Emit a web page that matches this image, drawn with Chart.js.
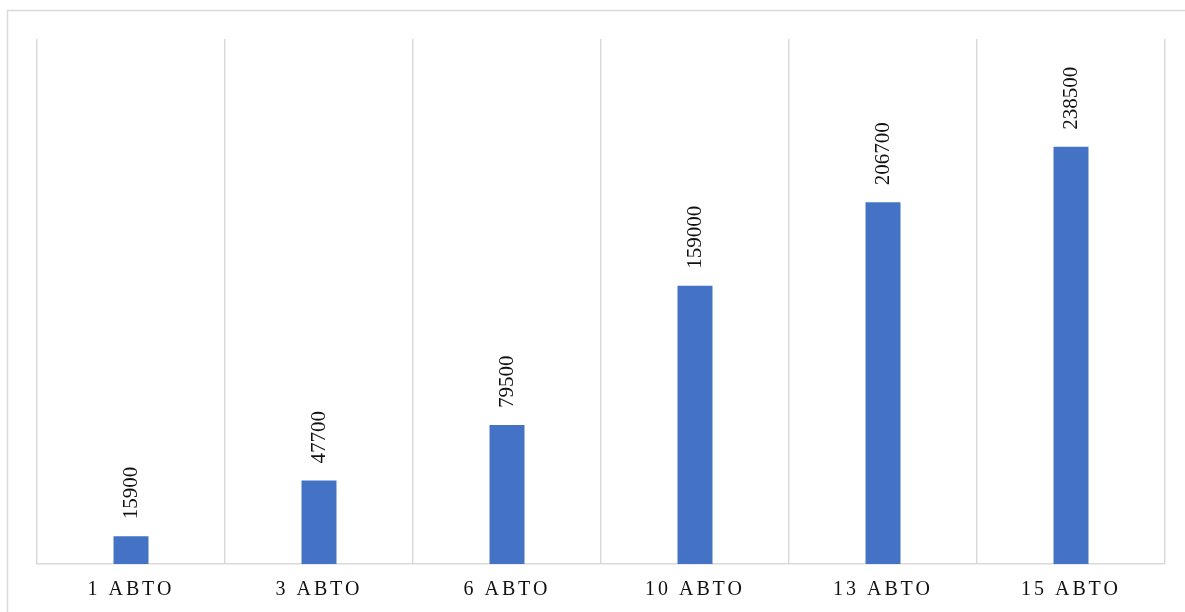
<!DOCTYPE html>
<html>
<head>
<meta charset="utf-8">
<script src="https://cdn.jsdelivr.net/npm/chart.js@4/dist/chart.umd.min.js"></script>
<style>
  html, body { margin: 0; padding: 0; background: #fff; }
  canvas { display: block; }
</style>
</head>
<body>
<canvas id="c" width="1185" height="612"></canvas>
<script>
const categories = ['1 АВТО', '3 АВТО', '6 АВТО', '10 АВТО', '13 АВТО', '15 АВТО'];
const values = [15900, 47700, 79500, 159000, 206700, 238500];
const yMax = 300000;

const serif = '"Liberation Serif", "Times New Roman", serif';

// Light frame around the whole chart
const framePlugin = {
  id: 'frame',
  beforeDraw(chart) {
    const ctx = chart.ctx;
    ctx.save();
    ctx.strokeStyle = '#d9d9d9';
    ctx.lineWidth = 1.5;
    ctx.strokeRect(7.5, 10.5, chart.width + 10, chart.height + 10);
    ctx.restore();
    // spaced-out category labels
    ctx.letterSpacing = '3px';
  }
};

// Vertical value labels above each bar
const valueLabels = {
  id: 'valueLabels',
  afterDatasetsDraw(chart) {
    const ctx = chart.ctx;
    const meta = chart.getDatasetMeta(0);
    ctx.save();
    ctx.letterSpacing = '0px';
    ctx.fillStyle = '#111';
    ctx.font = '21px ' + serif;
    ctx.textAlign = 'left';
    ctx.textBaseline = 'middle';
    meta.data.forEach((bar, i) => {
      ctx.save();
      ctx.translate(bar.x, bar.y - 17);
      ctx.rotate(-Math.PI / 2);
      ctx.fillText(String(values[i]), 0, 0);
      ctx.restore();
    });
    ctx.restore();
  }
};

new Chart(document.getElementById('c'), {
  type: 'bar',
  data: {
    labels: categories,
    datasets: [{
      data: values,
      backgroundColor: '#4472C4',
      borderWidth: 0,
      categoryPercentage: 1,
      barPercentage: 0.186
    }]
  },
  options: {
    responsive: false,
    animation: false,
    devicePixelRatio: 1,
    layout: { padding: { left: 37, right: 20, top: 39, bottom: -4 } },
    plugins: { legend: { display: false }, tooltip: { enabled: false } },
    scales: {
      x: {
        offset: true,
        grid: {
          display: true,
          offset: true,
          color: '#d9d9d9',
          lineWidth: 1.5,
          drawTicks: false
        },
        border: { display: true, color: '#d9d9d9', width: 1.5 },
        ticks: {
          color: '#111',
          font: { family: serif, size: 20 },
          padding: 14,
          maxRotation: 0
        }
      },
      y: {
        display: false,
        min: 0,
        max: yMax
      }
    }
  },
  plugins: [framePlugin, valueLabels]
});
</script>
</body>
</html>
